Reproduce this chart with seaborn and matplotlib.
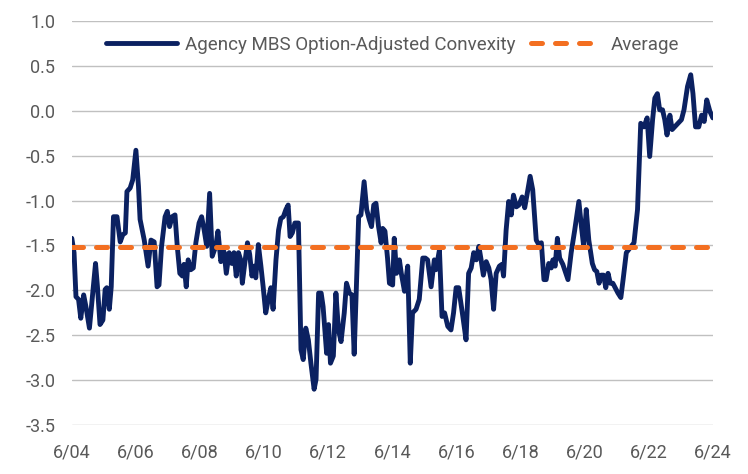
import matplotlib
matplotlib.use("Agg")
import numpy as np
import pandas as pd
import matplotlib.pyplot as plt
import seaborn as sns

# Agency MBS option-adjusted convexity (decimal years)
years = [
    2004.50, 2004.57, 2004.63, 2004.71, 2004.78, 2004.87, 2004.94, 2005.05, 2005.24, 2005.30,
    2005.38, 2005.47, 2005.54, 2005.59, 2005.67, 2005.73, 2005.80, 2005.91, 2006.01, 2006.09,
    2006.17, 2006.22, 2006.32, 2006.40, 2006.50, 2006.58, 2006.63, 2006.76, 2006.88, 2006.97,
    2007.07, 2007.16, 2007.22, 2007.30, 2007.41, 2007.48, 2007.55, 2007.63, 2007.72, 2007.79,
    2007.87, 2007.95, 2008.00, 2008.07, 2008.13, 2008.21, 2008.29, 2008.37, 2008.47, 2008.55,
    2008.63, 2008.71, 2008.80, 2008.88, 2008.99, 2009.06, 2009.15, 2009.25, 2009.32, 2009.41,
    2009.49, 2009.56, 2009.63, 2009.70, 2009.77, 2009.82, 2009.91, 2009.98, 2010.05, 2010.12,
    2010.19, 2010.24, 2010.32, 2010.40, 2010.47, 2010.55, 2010.63, 2010.71, 2010.78, 2010.87,
    2010.95, 2011.02, 2011.10, 2011.18, 2011.25, 2011.31, 2011.38, 2011.46, 2011.57, 2011.65,
    2011.72, 2011.80, 2011.88, 2011.96, 2012.06, 2012.12, 2012.20, 2012.28, 2012.34, 2012.45,
    2012.51, 2012.57, 2012.66, 2012.74, 2012.82, 2012.90, 2013.00, 2013.07, 2013.16, 2013.24,
    2013.31, 2013.38, 2013.45, 2013.52, 2013.62, 2013.70, 2013.78, 2013.85, 2013.92, 2013.99,
    2014.07, 2014.15, 2014.20, 2014.27, 2014.35, 2014.41, 2014.51, 2014.56, 2014.63, 2014.72,
    2014.78, 2014.88, 2014.98, 2015.06, 2015.13, 2015.24, 2015.34, 2015.45, 2015.53, 2015.60,
    2015.71, 2015.81, 2015.86, 2015.97, 2016.05, 2016.13, 2016.23, 2016.33, 2016.41, 2016.49,
    2016.57, 2016.70, 2016.80, 2016.88, 2016.96, 2017.04, 2017.12, 2017.20, 2017.27, 2017.34,
    2017.43, 2017.51, 2017.58, 2017.66, 2017.74, 2017.84, 2017.92, 2017.97, 2018.05, 2018.13,
    2018.21, 2018.28, 2018.37, 2018.45, 2018.55, 2018.63, 2018.70, 2018.80, 2018.88, 2018.99,
    2019.07, 2019.15, 2019.23, 2019.30, 2019.38, 2019.46, 2019.51, 2019.58, 2019.65, 2019.72,
    2019.82, 2019.98, 2020.08, 2020.19, 2020.32, 2020.40, 2020.47, 2020.55, 2020.63, 2020.74,
    2020.81, 2020.88, 2020.95, 2021.02, 2021.09, 2021.16, 2021.23, 2021.30, 2021.38, 2021.54,
    2021.63, 2021.70, 2021.80, 2021.91, 2022.04, 2022.15, 2022.25, 2022.35, 2022.45, 2022.53,
    2022.62, 2022.69, 2022.77, 2022.84, 2022.93, 2023.00, 2023.07, 2023.16, 2023.23, 2023.31,
    2023.42, 2023.52, 2023.60, 2023.71, 2023.81, 2023.88, 2023.96, 2024.06, 2024.15, 2024.23,
    2024.31, 2024.41, 2024.50,
]
convexity = [
    -1.42, -1.58, -2.07, -2.10, -2.31, -2.05, -2.18, -2.42, -1.70, -1.96,
    -2.38, -2.33, -1.99, -1.97, -2.21, -1.96, -1.18, -1.18, -1.46, -1.38,
    -1.36, -0.90, -0.86, -0.77, -0.44, -0.84, -1.21, -1.44, -1.73, -1.44,
    -1.46, -1.96, -1.94, -1.51, -1.18, -1.12, -1.29, -1.18, -1.16, -1.51,
    -1.81, -1.84, -1.71, -1.96, -1.66, -1.77, -1.75, -1.47, -1.25, -1.18,
    -1.33, -1.51, -0.92, -1.62, -1.51, -1.34, -1.68, -1.57, -1.81, -1.58,
    -1.70, -1.58, -1.84, -1.58, -1.66, -1.92, -1.66, -1.47, -1.60, -1.84,
    -1.73, -1.86, -1.49, -1.73, -1.96, -2.25, -2.10, -1.97, -2.21, -1.66,
    -1.33, -1.20, -1.18, -1.10, -1.05, -1.40, -1.36, -1.25, -1.25, -2.66,
    -2.77, -2.42, -2.55, -2.81, -3.10, -2.99, -2.03, -2.03, -2.18, -2.70,
    -2.38, -2.81, -2.73, -2.03, -2.44, -2.57, -2.25, -1.92, -2.03, -2.05,
    -2.71, -1.96, -1.18, -1.16, -0.79, -1.10, -1.21, -1.29, -1.05, -1.03,
    -1.29, -1.47, -1.31, -1.34, -1.64, -1.92, -1.94, -1.42, -1.81, -1.66,
    -1.81, -2.01, -1.73, -2.81, -2.25, -2.21, -2.10, -1.64, -1.64, -1.66,
    -1.96, -1.66, -1.77, -1.55, -2.29, -2.25, -2.40, -2.44, -2.25, -1.97,
    -1.97, -2.29, -2.55, -1.81, -1.75, -1.58, -1.66, -1.51, -1.66, -1.83,
    -1.68, -1.75, -1.88, -2.21, -1.81, -1.73, -1.71, -1.84, -1.33, -1.01,
    -1.16, -0.94, -1.07, -1.05, -0.96, -1.08, -0.94, -0.73, -0.88, -1.44,
    -1.49, -1.47, -1.88, -1.88, -1.70, -1.75, -1.66, -1.73, -1.42, -1.64,
    -1.71, -1.88, -1.58, -1.33, -1.01, -1.29, -1.51, -1.10, -1.44, -1.70,
    -1.77, -1.79, -1.92, -1.83, -1.83, -1.97, -1.81, -1.92, -1.92, -2.03,
    -2.08, -1.88, -1.58, -1.53, -1.47, -1.10, -0.14, -0.18, -0.08, -0.51,
    -0.10, 0.14, 0.19, 0.01, 0.01, -0.10, -0.27, -0.05, -0.21, -0.18,
    -0.14, -0.10, 0.01, 0.27, 0.40, 0.19, -0.18, -0.18, -0.05, -0.12,
    0.12, -0.01, -0.08,
]
average = -1.52

tick_years = [2004.5, 2006.5, 2008.5, 2010.5, 2012.5, 2014.5, 2016.5, 2018.5,
              2020.5, 2022.5, 2024.5]
tick_labels = ["6/04", "6/06", "6/08", "6/10", "6/12", "6/14", "6/16", "6/18",
               "6/20", "6/22", "6/24"]
y_ticks = np.arange(-3.5, 1.01, 0.5)

df = pd.DataFrame({"year": years, "convexity": convexity})

sns.set_theme(style="white")
plt.rcParams["font.family"] = ["Roboto", "DejaVu Sans"]

navy = "#0b2161"
orange = "#f36f21"
grey_text = "#595959"

fig = plt.figure(figsize=(7.48, 4.74), dpi=100)
ax = fig.add_axes([0.096, 0.103, 0.857, 0.853])

sns.lineplot(data=df, x="year", y="convexity", ax=ax, color=navy, linewidth=3.5,
             label="Agency MBS Option-Adjusted Convexity", zorder=3)
ax.axhline(average, color=orange, linewidth=3.6, dashes=(2.2, 2.6),
           dash_capstyle="round", label="Average", zorder=4)

ax.set_xlim(2004.5, 2024.5)
ax.set_ylim(-3.5, 1.0)
ax.set_yticks(y_ticks)
ax.set_yticklabels([f"{v:.1f}" for v in y_ticks])
ax.set_xticks(tick_years)
ax.set_xticklabels(tick_labels)
ax.tick_params(axis="both", labelsize=13, colors=grey_text, length=0)
ax.tick_params(axis="x", pad=13)
ax.tick_params(axis="y", pad=12)

ax.grid(axis="y", color="#c0c0c0", linewidth=1)
ax.set_axisbelow(True)
for s in ax.spines.values():
    s.set_visible(False)

ax.set_xlabel("")
ax.set_ylabel("")

leg = ax.legend(loc="upper center", bbox_to_anchor=(0.5, 1.005), ncol=2, frameon=False,
                fontsize=13.5, handlelength=3.8, columnspacing=0.8, handletextpad=0.45)
for t in leg.get_texts():
    t.set_color(grey_text)

fig.savefig("out.png", dpi=100)
